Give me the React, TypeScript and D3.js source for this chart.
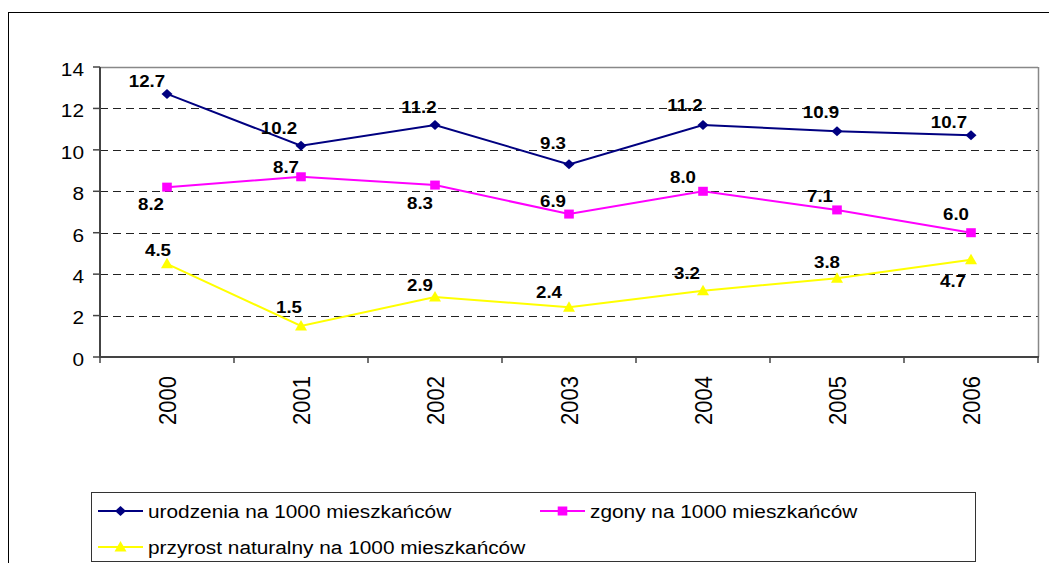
import React from "react";
import * as d3 from "d3";

const years = ["2000", "2001", "2002", "2003", "2004", "2005", "2006"];
const births = [12.7, 10.2, 11.2, 9.3, 11.2, 10.9, 10.7];
const deaths = [8.2, 8.7, 8.3, 6.9, 8.0, 7.1, 6.0];
const growth = [4.5, 1.5, 2.9, 2.4, 3.2, 3.8, 4.7];
const yTicks = [0, 2, 4, 6, 8, 10, 12, 14];
const seriesNames = [
  "urodzenia na 1000 mieszkańców",
  "zgony na 1000 mieszkańców",
  "przyrost naturalny na 1000 mieszkańców",
];

// label placement offsets (style)
const labelOffsets = [
  { dx: [-20, -22, -16, -16, -18, -16, -22], dy: [-13, -18, -18, -21, -20, -19, -13] },
  { dx: [-16, -15, -15, -16, -20, -17, -15], dy: [17, -10, 18, -13, -14, -14, -19] },
  { dx: [-9, -12, -15, -20, -16, -10, -18], dy: [-14, -19, -12, -15, -18, -16, 21] },
];

const W = 1049;
const H = 563;
const left = 100;
const right = 1038;
const top = 67;
const bottom = 357;
const SX = 1.12;
const FONT = "'Liberation Sans', Arial, sans-serif";

const colors = ["#000080", "#FF00FF", "#FFFF00"];
const shapes = ["diamond", "square", "triangle"];

function Marker({ shape, x, y, color }: { shape: string; x: number; y: number; color: string }) {
  if (shape === "diamond") {
    return <path d={`M${x},${y - 5} L${x + 5.5},${y} L${x},${y + 5} L${x - 5.5},${y} Z`} fill={color} />;
  }
  if (shape === "square") {
    return <rect x={x - 4.8} y={y - 4.5} width={9.6} height={9} fill={color} />;
  }
  return <path d={`M${x},${y - 6} L${x + 6},${y + 4.5} L${x - 6},${y + 4.5} Z`} fill={color} />;
}

function SText({ x, y, size, anchor, bold, rotate, children }: any) {
  const t = `translate(${x},${y}) scale(${SX},1)` + (rotate ? ` rotate(${rotate})` : "");
  return (
    <text
      transform={t}
      fontFamily={FONT}
      fontSize={size}
      fontWeight={bold ? "bold" : "normal"}
      textAnchor={anchor || "start"}
      fill="#000"
    >
      {children}
    </text>
  );
}

export default function App() {
  const x = d3.scaleBand<string>().domain(years).range([left, right]);
  const y = d3.scaleLinear().domain([0, 14]).range([bottom, top]);
  const cx = (yr: string) => (x(yr) as number) + x.bandwidth() / 2;
  const data = [births, deaths, growth];
  const line = d3
    .line<number>()
    .x((_, i) => cx(years[i]))
    .y((v) => y(v));

  const boundaries = years.map((yr) => x(yr) as number).concat([right]);

  return (
    <svg width={W} height={H} style={{ position: "absolute", left: 0, top: 0, background: "#fff" }}>
      <rect x={0} y={0} width={W} height={H} fill="#fff" />
      {/* outer chart border */}
      <rect x={8.5} y={12.5} width={W + 20} height={H + 20} fill="none" stroke="#000" strokeWidth={1} />

      {/* gridlines */}
      {yTicks.filter((t) => t > 0 && t < 14).map((t) => (
        <line
          key={"g" + t}
          x1={left}
          x2={right}
          y1={Math.round(y(t)) + 0.5}
          y2={Math.round(y(t)) + 0.5}
          stroke="#222"
          strokeWidth={1}
          strokeDasharray="8,5"
        />
      ))}

      {/* plot border top/right */}
      <line x1={left} x2={right} y1={top + 0.5} y2={top + 0.5} stroke="#888" strokeWidth={1.5} />
      <line x1={right + 0.5} x2={right + 0.5} y1={top} y2={bottom} stroke="#888" strokeWidth={1.5} />

      {/* axes */}
      <line x1={left} x2={left} y1={top} y2={bottom + 1} stroke="#444" strokeWidth={2} />
      <line x1={left - 1} x2={right + 1} y1={bottom} y2={bottom} stroke="#444" strokeWidth={2} />

      {/* y ticks */}
      {yTicks.map((t) => (
        <g key={"yt" + t}>
          <line x1={left - 7} x2={left} y1={y(t)} y2={y(t)} stroke="#444" strokeWidth={1.5} />
          <SText x={84} y={y(t) + 8.8} size={18.6} anchor="end">
            {String(t)}
          </SText>
        </g>
      ))}

      {/* x ticks */}
      {boundaries.map((b, i) => (
        <line key={"xt" + i} x1={b} x2={b} y1={bottom} y2={bottom + 6} stroke="#444" strokeWidth={1.5} />
      ))}
      {years.map((yr) => (
        <SText key={"xl" + yr} x={cx(yr) + 8.8} y={376} size={22} anchor="end" rotate={-90}>
          {yr}
        </SText>
      ))}

      {/* series */}
      {data.map((vals, si) => (
        <g key={"s" + si}>
          <path d={line(vals) as string} fill="none" stroke={colors[si]} strokeWidth={2} />
          {vals.map((v, i) => (
            <Marker key={i} shape={shapes[si]} x={cx(years[i])} y={y(v)} color={colors[si]} />
          ))}
          {vals.map((v, i) => (
            <SText
              key={"l" + i}
              x={cx(years[i]) + labelOffsets[si].dx[i]}
              y={y(v) + labelOffsets[si].dy[i] + 6}
              size={16.7}
              anchor="middle"
              bold
            >
              {v.toFixed(1)}
            </SText>
          ))}
        </g>
      ))}

      {/* legend */}
      <rect x={91.5} y={492.5} width={884} height={69} fill="#fff" stroke="#333" strokeWidth={1} />
      {[
        { lx: 98, ty: 511 },
        { lx: 540, ty: 511 },
        { lx: 98, ty: 547 },
      ].map((p, si) => (
        <g key={"lg" + si}>
          <line x1={p.lx} x2={p.lx + 45} y1={p.ty} y2={p.ty} stroke={colors[si]} strokeWidth={2} />
          <Marker shape={shapes[si]} x={p.lx + 22.5} y={p.ty} color={colors[si]} />
          <SText x={p.lx + 50} y={p.ty + 6.7} size={18.6}>
            {seriesNames[si]}
          </SText>
        </g>
      ))}
    </svg>
  );
}
